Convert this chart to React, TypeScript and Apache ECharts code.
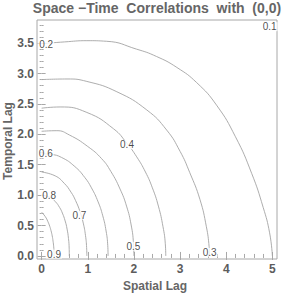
import React, { useEffect, useRef } from 'react';
import * as echarts from 'echarts';

// Axis tick labels
const xTickLabels = [0, 1, 2, 3, 4, 5];
const yTickLabels = [0, 0.5, 1, 1.5, 2, 2.5, 3, 3.5];

// Contour lines: [spatial lag, temporal lag]
const contour09: [number, number][] = [[0, 0.72], [0.081, 0.645], [0.135, 0.567], [0.176, 0.487], [0.203, 0.418], [0.23, 0.329], [0.248, 0.243], [0.262, 0.15], [0.269, 0.061], [0.27, 0]];
const contour08: [number, number][] = [[0, 1.0], [0.18, 0.965], [0.3, 0.891], [0.39, 0.797], [0.45, 0.705], [0.51, 0.576], [0.552, 0.442], [0.582, 0.287], [0.597, 0.129], [0.6, 0]];
const contour07: [number, number][] = [[0, 1.38], [0.294, 1.317], [0.49, 1.195], [0.637, 1.049], [0.735, 0.912], [0.833, 0.727], [0.902, 0.541], [0.951, 0.335], [0.975, 0.138], [0.98, 0]];
const contour06: [number, number][] = [[0, 1.68], [0.2, 1.67], [0.432, 1.62], [0.72, 1.47], [0.936, 1.29], [1.08, 1.12], [1.224, 0.89], [1.325, 0.66], [1.397, 0.41], [1.433, 0.17], [1.44, 0]];
const contour05: [number, number][] = [[0, 2.05], [0.33, 2.06], [0.6, 1.99], [1.0, 1.8], [1.3, 1.6], [1.5, 1.39], [1.7, 1.1], [1.84, 0.82], [1.94, 0.51], [1.99, 0.21], [2.0, 0]];
const contour04: [number, number][] = [[0, 2.43], [0.4, 2.45], [0.98, 2.36], [1.56, 2.09], [1.85, 1.85], [2.06, 1.63], [2.25, 1.38], [2.4, 1.12], [2.53, 0.82], [2.63, 0.48], [2.68, 0.2], [2.69, 0]];
const contour03: [number, number][] = [[0, 2.9], [0.55, 2.91], [0.98, 2.87], [1.63, 2.7], [2.28, 2.4], [2.71, 2.07], [3.0, 1.72], [3.21, 1.37], [3.43, 0.93], [3.57, 0.48], [3.63, 0.15], [3.64, 0]];
const contour02: [number, number][] = [[0, 3.49], [0.5, 3.52], [0.98, 3.54], [1.41, 3.53], [2.06, 3.4], [2.49, 3.28], [2.93, 3.1], [3.36, 2.85], [3.79, 2.48], [4.2, 1.96], [4.55, 1.36], [4.8, 0.8], [4.94, 0.38], [5.0, 0]];

const contours = [contour09, contour08, contour07, contour06, contour05, contour04, contour03, contour02];
const contourNames = ['0.9', '0.8', '0.7', '0.6', '0.5', '0.4', '0.3', '0.2'];

// Contour labels and where they sit
const labelTexts = ['0.1', '0.2', '0.3', '0.4', '0.5', '0.6', '0.7', '0.8', '0.9'];
const labelX = [4.94, 0.1, 3.64, 1.85, 1.99, 0.09, 0.82, 0.165, 0.27];
const labelY = [3.77, 3.48, 0.06, 1.83, 0.16, 1.68, 0.67, 0.995, 0.03];

const FONT = '"Liberation Sans", Arial, sans-serif';
const TEXT_COLOR = '#5c5c5c';
const FRAME_COLOR = '#a8a8a8';
const LINE_COLOR = '#a4a4a4';

const X_MIN = -0.1, X_MAX = 5.1, Y_MIN = -0.05, Y_MAX = 3.88;

function minorTicks(step: number, majorStep: number, lo: number, hi: number) {
  const out: number[] = [];
  for (let i = Math.ceil(lo / step); i * step <= hi + 1e-9; i++) {
    const v = Math.round(i * step * 1000) / 1000;
    const r = v / majorStep;
    if (Math.abs(r - Math.round(r)) > 1e-6) out.push(v);
  }
  return out;
}

export default function App() {
  const ref = useRef<HTMLDivElement>(null);
  useEffect(() => {
    if (!ref.current) return;
    const chart = echarts.init(ref.current, undefined, { renderer: 'svg' });
    const xMinor = minorTicks(0.2, 1, X_MIN, X_MAX);
    const yMinor = minorTicks(0.1, 0.5, Y_MIN, Y_MAX);
    const mkX = (position: 'top' | 'bottom', values: number[], len: number, labels: boolean) => ({
      type: 'value', min: X_MIN, max: X_MAX, position,
      axisLine: { show: false }, splitLine: { show: false },
      axisTick: { show: true, inside: true, length: len, customValues: values, lineStyle: { color: FRAME_COLOR, width: 1 } },
      axisLabel: labels ? { show: true, customValues: values, margin: 4, fontFamily: FONT, fontWeight: 'bold', fontSize: 12, color: TEXT_COLOR, formatter: (v: number) => String(v) } : { show: false },
    });
    const mkY = (position: 'left' | 'right', values: number[], len: number, labels: boolean) => ({
      type: 'value', min: Y_MIN, max: Y_MAX, position,
      axisLine: { show: false }, splitLine: { show: false },
      axisTick: { show: true, inside: true, length: len, customValues: values, lineStyle: { color: FRAME_COLOR, width: 1 } },
      axisLabel: labels ? { show: true, customValues: values, margin: 3, fontFamily: FONT, fontWeight: 'bold', fontSize: 12, color: TEXT_COLOR, formatter: (v: number) => v.toFixed(1) } : { show: false },
    });
    const lineSeries = contours.map((c, i) => ({
      type: 'line', name: contourNames[i], data: c, xAxisIndex: 0, yAxisIndex: 0,
      symbol: 'none', smooth: 0.5, lineStyle: { color: LINE_COLOR, width: 0.9 }, z: 2,
    }));
    const labelData = labelTexts.map((t, i) => [labelX[i], labelY[i], t]);
    chart.setOption({
      animation: false,
      backgroundColor: '#fff',
      grid: { left: 37, right: 8, top: 20, bottom: 37, show: true, borderColor: FRAME_COLOR, borderWidth: 1, backgroundColor: '#fff' },
      xAxis: [mkX('bottom', xTickLabels, 4, true), mkX('bottom', xMinor, 2, false), mkX('top', xTickLabels, 4, false), mkX('top', xMinor, 2, false)],
      yAxis: [mkY('left', yTickLabels, 4, true), mkY('left', yMinor, 2, false), mkY('right', yTickLabels, 4, false), mkY('right', yMinor, 2, false)],
      series: [
        ...lineSeries,
        {
          type: 'scatter', data: labelData, xAxisIndex: 0, yAxisIndex: 0, symbol: 'rect', symbolSize: 1,
          itemStyle: { color: 'rgba(0,0,0,0)' }, z: 5, silent: true,
          label: {
            show: true, position: 'inside', formatter: (p: any) => p.value[2],
            fontFamily: FONT, fontSize: 10, color: '#1a1a1a', backgroundColor: '#fff', padding: [0, 1], lineHeight: 9,
          },
        },
      ],
      graphic: [
        { type: 'text', x: 157, y: 8, style: { text: 'Space −Time  Correlations  with  (0,0)', font: `bold 14px ${FONT}`, fill: '#666', align: 'center', verticalAlign: 'middle' } },
        { type: 'text', x: 155, y: 286, style: { text: 'Spatial Lag', font: `bold 12px ${FONT}`, fill: '#666', align: 'center', verticalAlign: 'middle' } },
        { type: 'text', x: 8, y: 141, rotation: Math.PI / 2, style: { text: 'Temporal Lag', font: `bold 12px ${FONT}`, fill: '#666', align: 'center', verticalAlign: 'middle' } },
      ],
    });
    return () => chart.dispose();
  }, []);
  return <div ref={ref} style={{ position: 'fixed', left: 0, top: 0, width: 285, height: 296 }} />;
}
